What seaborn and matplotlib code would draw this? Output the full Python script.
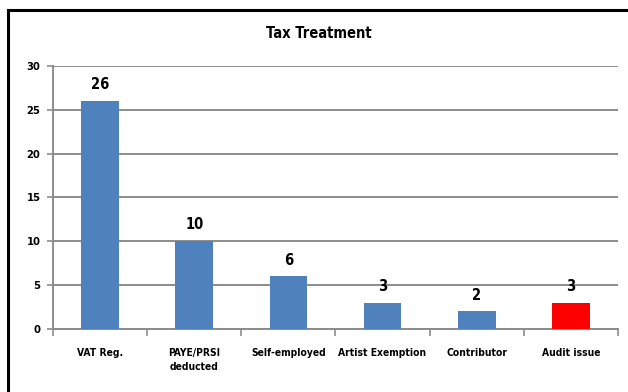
import matplotlib
matplotlib.use("Agg")
import matplotlib.pyplot as plt
import seaborn as sns
import pandas as pd
from matplotlib.patches import Rectangle

categories = ["VAT Reg.", "PAYE/PRSI\ndeducted", "Self-employed", "Artist Exemption", "Contributor", "Audit issue"]
values = [26, 10, 6, 3, 2, 3]
bar_colors = ["#4F81BD", "#4F81BD", "#4F81BD", "#4F81BD", "#4F81BD", "#FF0000"]
yticks = [0, 5, 10, 15, 20, 25, 30]
title = "Tax Treatment"

sns.set_theme(style="white")
plt.rcParams['font.family'] = ['DejaVu Sans']
plt.rcParams['font.stretch'] = 'condensed'
plt.rcParams['text.color'] = 'black'
plt.rcParams['xtick.color'] = 'black'
plt.rcParams['ytick.color'] = 'black'

df = pd.DataFrame({"cat": categories, "val": values})

fig = plt.figure(figsize=(6.28, 3.92), dpi=100)
ax = fig.add_axes([0.0844, 0.161, 0.8996, 0.671])
sns.barplot(data=df, x="cat", y="val", hue="cat", palette=bar_colors, legend=False,
            width=0.4, saturation=1, ax=ax, zorder=3, linewidth=0, edgecolor="none")

ax.set_ylim(0, 30)
ax.set_xlim(-0.5, len(categories) - 0.5)
ax.set_yticks(yticks)
ax.set_yticklabels([str(t) for t in yticks], fontsize=8, fontweight="bold", stretch="condensed")
ax.yaxis.grid(True, color="#8c8c8c", linewidth=1.4, zorder=0)
ax.set_axisbelow(True)
ax.set_xlabel("")
ax.set_ylabel("")

ax.set_xticks(range(len(categories)))
ax.set_xticklabels(categories, fontsize=7.4, fontweight="bold", va="top", linespacing=1.45,
                   stretch="condensed")
ax.tick_params(axis="x", length=0, pad=14)
ax.set_xticks([i - 0.5 for i in range(len(categories) + 1)], minor=True)
ax.tick_params(axis="x", which="minor", length=5, color="#8c8c8c", width=1.2, direction="out", bottom=True)
ax.tick_params(axis="y", length=4, color="#8c8c8c", width=1.2, direction="out", left=True, pad=5)

for s in ["top", "right"]:
    ax.spines[s].set_visible(False)
for s in ["left", "bottom"]:
    ax.spines[s].set_color("#8c8c8c")
    ax.spines[s].set_linewidth(1.4)

for i, v in enumerate(values):
    ax.text(i, v + 1.0, str(v), ha="center", va="bottom", fontsize=10.5, fontweight="bold",
            color="black", stretch="condensed")

fig.text(0.507, 0.915, title, ha="center", va="center", fontsize=10.5, fontweight="bold",
         stretch="condensed", color="black")

fig.patches.append(Rectangle((8 / 628, -0.05), 1.1, 1 - 10 / 392 + 0.05, transform=fig.transFigure,
                             fill=False, edgecolor="black", linewidth=2.2))

fig.savefig("out.png", dpi=100)
